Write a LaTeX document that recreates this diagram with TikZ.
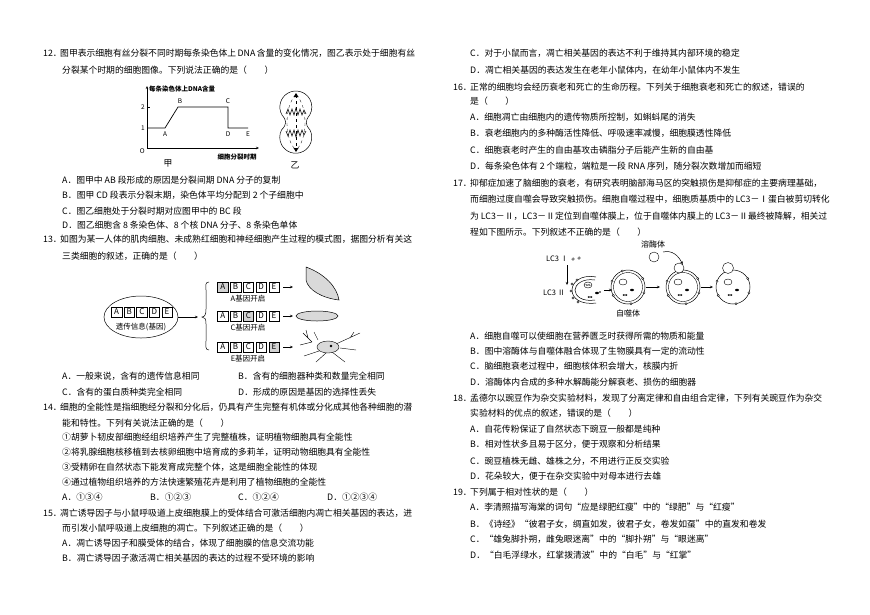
\documentclass[tikz,border=0pt]{standalone}
\usepackage{fontspec}
\setmainfont{Noto Sans CJK SC}
\usetikzlibrary{arrows.meta,shapes.geometric,calc}
\XeTeXlinebreaklocale "zh"
\XeTeXlinebreakskip=0pt plus 3pt
\newcommand\T[4]{\node[txt] (#1) at (#2,#3) {#4};}
\newcommand\F[5]{\node[txt] (#1) at (#2,#3) {\hbox to #4pt{#5}};}
\newcommand\gbox[3]{\node[gb,#3] at (#1) {#2};}
\begin{document}
\begin{tikzpicture}[x=1pt,y=-1pt,
  txt/.style={anchor=west,inner sep=0,font=\fontsize{8.8}{10}\selectfont},
  sm/.style={inner sep=0,font=\fontsize{6.5}{7}\selectfont},
  gb/.style={draw,minimum width=10.5pt,minimum height=10.5pt,inner sep=0,font=\fontsize{8}{8}\selectfont},
  arr/.style={-{Stealth[length=3pt,width=2.5pt]},line width=0.5pt},
  dot/.style={draw,line width=0.3pt,fill=white}]
\useasboundingbox (0,0) rectangle (870,614);
% ---------- left column ----------
\T{n12}{43}{53}{12．}
\F{q12a}{60}{53}{355}{图甲表示细胞有丝分裂不同时期每条染色体上 DNA 含量的变化情况，图乙表示处于细胞有丝}
\T{q12b}{62}{70}{分裂某个时期的细胞图像。下列说法正确的是（　　）}
\T{q12A}{62}{180}{A．图甲中 \textit{AB} 段形成的原因是分裂间期 DNA 分子的复制}
\T{q12B}{62}{195}{B．图甲 \textit{CD} 段表示分裂末期，染色体平均分配到 2 个子细胞中}
\T{q12C}{62}{211}{C．图乙细胞处于分裂时期对应图甲中的 \textit{BC} 段}
\T{q12D}{62}{225}{D．图乙细胞含 8 条染色体、8 个核 DNA 分子、8 条染色单体}
% graph 甲
\coordinate (O) at (147,148);
\draw[arr] (O) -- (147,86);
\draw[arr] (O) -- (259,148);
\draw[line width=0.7pt] (147,128) -- (165,128) -- (178,107) -- (228,107) -- (228,128) -- (248,128);
\draw (147,107) -- (150,107);
\node[sm,anchor=east] (l2) at (145,107) {2};
\node[sm,anchor=east] (l1) at (145,128) {1};
\node[sm,anchor=east] (lO) at (145,151) {\textit{O}};
\node[sm] (pA) at (165,134) {\textit{A}};
\node[sm] (pB) at (180,101) {\textit{B}};
\node[sm] (pC) at (228,101) {\textit{C}};
\node[sm] (pD) at (228,134) {\textit{D}};
\node[sm] (pE) at (248,134) {\textit{E}};
\node[sm,anchor=west] (ylab) at (149,89) {\textbf{每条染色体上DNA含量}};
\node[sm] (xlab) at (237,157) {\textbf{细胞分裂时期}};
\node[txt,anchor=center] (jia) at (168,163) {甲};
% cell 乙
\draw[line width=0.5pt] (282,115) arc[start angle=150,end angle=390,radius=16]
  .. controls (305,121) and (305,124) .. (310,130)
  arc[start angle=-27,end angle=207,radius=16]
  .. controls (287,124) and (287,121) .. cycle;
\draw[dashed,line width=0.3pt] (296,95) .. controls (284,105) and (284,140) .. (296,150);
\draw[dashed,line width=0.3pt] (296,95) .. controls (308,105) and (308,140) .. (296,150);
\draw[dashed,line width=0.3pt] (296,95) -- (296,150);
\fill (296,93) -- (293.5,97) -- (298.5,97) -- cycle;
\fill (296,152) -- (293.5,148) -- (298.5,148) -- cycle;
\draw[line width=0.6pt] (286,114) -- (288,109) -- (290,115) -- (292,109) -- (294,115) -- (296,108) -- (298,115) -- (300,109) -- (302,115) -- (304,110) -- (306,114);
\draw[line width=0.6pt] (286,131) -- (288,136) -- (290,130) -- (292,136) -- (294,130) -- (296,137) -- (298,130) -- (300,136) -- (302,130) -- (304,135) -- (306,131);
\node[txt,anchor=center] (yi) at (295,165) {乙};
% Q13
\T{n13}{43}{239}{13．}
\F{q13a}{60}{239}{355}{如图为某一人体的肌肉细胞、未成熟红细胞和神经细胞产生过程的模式图，据图分析有关这}
\T{q13b}{62}{256}{三类细胞的叙述，正确的是（　　）}
\node[draw,ellipse,minimum width=74pt,minimum height=42pt,line width=0.5pt] (ell) at (141,317) {};
\foreach \l [count=\i] in {A,B,C,D,E}{\gbox{{110+12.6*\i-6},312}{\l}{}}
\node[sm,font=\fontsize{7.5}{8}\selectfont] (gi) at (141,327) {遗传信息(基因)};
\draw[arr] (ell.east) -- (198,317);
\draw[line width=0.5pt] (209,282) .. controls (205,282) and (206,285) .. (206,290) -- (206,309)
  .. controls (206,314) and (205,317) .. (202,317) .. controls (205,317) and (206,319) .. (206,324)
  -- (206,341) .. controls (206,346) and (205,350) .. (209,350);
\foreach \y/\g/\lab in {287/1/A,316/3/C,347/5/E}{
  \foreach \l [count=\i] in {A,B,C,D,E}{
    \ifnum\i=\g \gbox{{210+12.8*\i},\y}{\l}{fill=gray!35}\else \gbox{{210+12.8*\i},\y}{\l}{}\fi}
  \node[sm,font=\fontsize{7.5}{8}\selectfont] at (248,\y+12) {\lab 基因开启};
  \draw[arr] (283,\y) -- (293,\y);
}
\draw[fill=gray!30,line width=0.5pt] (306,267) .. controls (325,274) and (337,287) .. (339,300)
  .. controls (322,298) and (308,290) .. (306,280) -- cycle;
\draw[fill=gray!30,line width=0.5pt] (317,316) ellipse[x radius=21,y radius=5];
% neuron
\draw[line width=0.4pt] (312,342) -- (303,333) (308,338) -- (306,330) (312,342) -- (300,345)
  (336,344) -- (360,333) (350,338) -- (354,332) (332,352) -- (345,362) (326,353) -- (316,362)
  (322,350) -- (304,356) (318,340) -- (314,332) (340,348) -- (356,350);
\draw[fill=gray!30,line width=0.4pt] (328,347) ellipse[x radius=11,y radius=6];
\fill (331,346) circle (1.3);
\T{q13A}{62}{376}{A．一般来说，含有的遗传信息相同}
\T{q13B}{238}{376}{B．含有的细胞器种类和数量完全相同}
\T{q13C}{62}{392}{C．含有的蛋白质种类完全相同}
\T{q13D}{238}{392}{D．形成的原因是基因的选择性丢失}
% Q14
\T{n14}{43}{407}{14．}
\F{q14a}{60}{407}{355}{细胞的全能性是指细胞经分裂和分化后，仍具有产生完整有机体或分化成其他各种细胞的潜}
\T{q14b}{62}{423}{能和特性。下列有关说法正确的是（　　）}
\T{q14i}{62}{437}{①胡萝卜韧皮部细胞经组织培养产生了完整植株，证明植物细胞具有全能性}
\T{q14ii}{62}{452}{②将乳腺细胞核移植到去核卵细胞中培育成的多莉羊，证明动物细胞具有全能性}
\T{q14iii}{62}{467}{③受精卵在自然状态下能发育成完整个体，这是细胞全能性的体现}
\T{q14iv}{62}{482}{④通过植物组织培养的方法快速繁殖花卉是利用了植物细胞的全能性}
\T{q14A}{62}{497}{A．①③④}
\T{q14B}{150}{497}{B．①②③}
\T{q14C}{238}{497}{C．①②④}
\T{q14D}{327}{497}{D．①②③④}
% Q15
\T{n15}{43}{513}{15．}
\F{q15a}{60}{513}{355}{凋亡诱导因子与小鼠呼吸道上皮细胞膜上的受体结合可激活细胞内凋亡相关基因的表达，进}
\T{q15b}{62}{528}{而引发小鼠呼吸道上皮细胞的凋亡。下列叙述正确的是（　　）}
\T{q15A}{62}{543}{A．凋亡诱导因子和膜受体的结合，体现了细胞膜的信息交流功能}
\T{q15B}{62}{558}{B．凋亡诱导因子激活凋亡相关基因的表达的过程不受环境的影响}
% ---------- right column ----------
\T{q15C}{470}{53}{C．对于小鼠而言，凋亡相关基因的表达不利于维持其内部环境的稳定}
\T{q15D}{470}{70}{D．凋亡相关基因的表达发生在老年小鼠体内，在幼年小鼠体内不发生}
\T{n16}{453}{87}{16．}
\F{q16a}{470}{87}{357}{正常的细胞均会经历衰老和死亡的生命历程。下列关于细胞衰老和死亡的叙述，错误的}
\T{q16b}{470}{101}{是（　　）}
\T{q16A}{470}{117}{A．细胞凋亡由细胞内的遗传物质所控制，如蝌蚪尾的消失}
\T{q16B}{470}{133}{B．衰老细胞内的多种酶活性降低、呼吸速率减慢，细胞膜透性降低}
\T{q16C}{470}{150}{C．细胞衰老时产生的自由基攻击磷脂分子后能产生新的自由基}
\T{q16D}{470}{166}{D．每条染色体有 2 个端粒，端粒是一段 RNA 序列，随分裂次数增加而缩短}
\T{n17}{453}{183}{17．}
\F{q17a}{470}{183}{357}{抑郁症加速了脑细胞的衰老，有研究表明脑部海马区的突触损伤是抑郁症的主要病理基础，}
\F{q17b}{470}{199}{357}{而细胞过度自噬会导致突触损伤。细胞自噬过程中，细胞质基质中的 LC3－Ⅰ蛋白被剪切转化}
\F{q17c}{470}{216}{357}{为 LC3－Ⅱ，LC3－Ⅱ定位到自噬体膜上，位于自噬体内膜上的 LC3－Ⅱ最终被降解，相关过}
\T{q17d}{470}{232}{程如下图所示。下列叙述不正确的是（　　）}
% autophagy figure
\node[sm,anchor=west,font=\fontsize{7.5}{8}\selectfont] (lc1) at (546,259) {LC3 Ⅰ};
\draw[dot] (573,259) circle (1.3); \draw[dot] (579,258) circle (1.3);
\node[sm,anchor=west,font=\fontsize{7.5}{8}\selectfont] (lc2) at (543,293) {LC3 Ⅱ};
\coordinate (a1) at (567,265); \coordinate (a2) at (567,285);
\draw[arr] (a1) -- (a2);
\draw[line width=0.5pt] (596,277) .. controls (580,274) and (572,283) .. (572,290) .. controls (572,298) and (580,305) .. (596,303);
\draw[line width=0.5pt] (595,280) .. controls (582,278) and (575,285) .. (575,290) .. controls (575,296) and (582,302) .. (595,300);
\foreach \p in {(572,284),(571,291),(573,298),(577,280),(578,302)} \draw[dot] \p circle (1.1);
\draw[line width=0.4pt] (588,285) ellipse[x radius=4,y radius=3];
\draw[line width=0.3pt] (585,284) -- (591,286) (586,286) -- (590,284);
\fill (597,293) ellipse[x radius=2,y radius=1.2]; \fill (600,292) circle (0.9);
\draw (590,297) ellipse[x radius=2,y radius=0.8];
\coordinate (b1) at (604,290); \coordinate (b2) at (612,290);
\draw[arr] (b1) -- (b2);
\foreach \cx/\dbl in {628/1,683/1,733/0}{
  \draw[line width=0.5pt] (\cx,287) circle (17);
  \ifnum\dbl=1 \draw[line width=0.4pt] (\cx,287) circle (14.5); \fi
  \foreach \a in {20,80,150,200,250,330} \draw[dot] ($(\cx,287)+(\a:17)$) circle (1.1);
  \draw[line width=0.4pt] (\cx-5,282) ellipse[x radius=4,y radius=3];
  \fill (\cx+4,290) ellipse[x radius=2,y radius=1.2];
  \draw (\cx-3,295) ellipse[x radius=2,y radius=0.8];
}
\node[draw,circle,minimum size=10pt,inner sep=0,line width=0.4pt,fill=white] (ly2) at (679,268) {};
\node[draw,circle,minimum size=11pt,inner sep=0,line width=0.4pt,fill=white] (ly3) at (728,268) {};
\coordinate (c1) at (646,287); \coordinate (c2) at (660,287);
\draw[arr] (c1) -- (c2);
\coordinate (d1) at (701,287); \coordinate (d2) at (713,287);
\draw[arr] (d1) -- (d2);
\node[draw,circle,minimum size=10pt,inner sep=0,line width=0.4pt] (ly1) at (654,257) {};
\node[sm,font=\fontsize{8}{9}\selectfont] (lyl) at (653,244) {溶酶体};
\draw[arr] (663,252) .. controls (672,250) and (678,255) .. (ly2.north east);
\node[sm,font=\fontsize{8}{9}\selectfont] (zsl) at (628,313) {自噬体};
\T{q17A}{470}{336}{A．细胞自噬可以使细胞在营养匮乏时获得所需的物质和能量}
\T{q17B}{470}{351}{B．图中溶酶体与自噬体融合体现了生物膜具有一定的流动性}
\T{q17C}{470}{366}{C．脑细胞衰老过程中，细胞核体积会增大，核膜内折}
\T{q17D}{470}{382}{D．溶酶体内合成的多种水解酶能分解衰老、损伤的细胞器}
\T{n18}{453}{398}{18．}
\F{q18a}{470}{398}{357}{孟德尔以豌豆作为杂交实验材料，发现了分离定律和自由组合定律，下列有关豌豆作为杂交}
\T{q18b}{470}{413}{实验材料的优点的叙述，错误的是（　　）}
\T{q18A}{470}{429}{A．自花传粉保证了自然状态下豌豆一般都是纯种}
\T{q18B}{470}{444}{B．相对性状多且易于区分，便于观察和分析结果}
\T{q18C}{470}{461}{C．豌豆植株无雌、雄株之分，不用进行正反交实验}
\T{q18D}{470}{476}{D．花朵较大，便于在杂交实验中对母本进行去雄}
\T{n19}{453}{492}{19．}
\T{q19a}{470}{492}{下列属于相对性状的是（　　）}
\T{q19A}{470}{507}{A．李清照描写海棠的词句“应是绿肥红瘦”中的“绿肥”与“红瘦”}
\T{q19B}{470}{524}{B．《诗经》“彼君子女，绸直如发，彼君子女，卷发如虿”中的直发和卷发}
\T{q19C}{470}{539}{C．“雄兔脚扑朔，雌兔眼迷离”中的“脚扑朔”与“眼迷离”}
\T{q19D}{470}{555}{D．“白毛浮绿水，红掌拨清波”中的“白毛”与“红掌”}
\end{tikzpicture}
\end{document}
